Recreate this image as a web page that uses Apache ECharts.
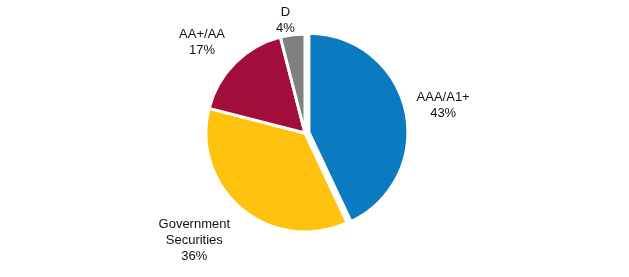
<!DOCTYPE html>
<html>
<head>
<meta charset="utf-8">
<style>
  html, body { margin: 0; padding: 0; background: #fff; }
  #chart { width: 629px; height: 277px; }
</style>
<script src="https://cdn.jsdelivr.net/npm/echarts@6/dist/echarts.min.js"></script>
</head>
<body>
<div id="chart"></div>
<script>
const categories = ['AAA/A1+', 'Government Securities', 'AA+/AA', 'D']
const labelLines = [['AAA/A1+'], ['Government', 'Securities'], ['AA+/AA'], ['D']]
const shares = [43, 36, 17, 4]
const colors = ['#0A7BC1', '#FFC20E', '#A30D3A', '#808080']

// label placement per slice: line length from the rim, and how far the text sits from its end
const labelTweaks = [
  { len: 21.6, dist: -10 },
  { len: 40.5, dist: -14 },
  { len: 29, dist: -10.5 },
  { len: 14.7, dist: -4 }
]

const chart = echarts.init(document.getElementById('chart'))
chart.setOption({
  animation: false,
  series: [{
    type: 'pie',
    center: [305, 133],
    radius: [0, 99],
    startAngle: 90,
    clockwise: true,
    avoidLabelOverlap: false,
    selectedMode: 'single',
    selectedOffset: 4,
    itemStyle: { borderColor: '#fff', borderWidth: 3 },
    label: {
      show: true,
      position: 'outside',
      formatter: p => labelLines[p.dataIndex].concat(p.value + '%').map(s => '{c|' + s + '}').join('\n'),
      fontFamily: 'Liberation Sans, Arial, sans-serif',
      fontSize: 13,
      lineHeight: 16,
      color: '#111',
      rich: {
        c: { align: 'center', fontSize: 13, lineHeight: 16, color: '#111' }
      }
    },
    labelLine: { show: false, length2: 0 },
    data: categories.map((name, i) => ({
      name: name,
      value: shares[i],
      selected: i === 0,
      itemStyle: { color: colors[i] },
      label: { distanceToLabelLine: labelTweaks[i].dist },
      labelLine: { length: labelTweaks[i].len }
    }))
  }]
})
</script>
</body>
</html>
